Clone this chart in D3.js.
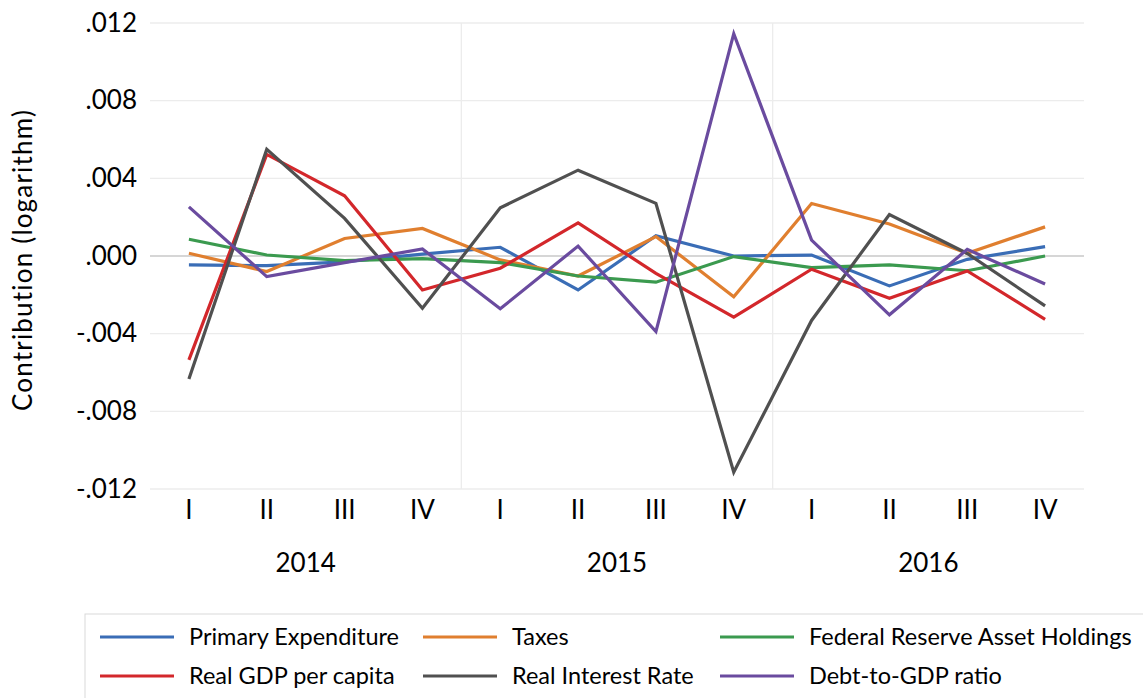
<!DOCTYPE html>
<html>
<head>
  <meta charset="utf-8">
  <title>Contributions</title>
  <script src="https://d3js.org/d3.v7.min.js"></script>
  <style>
    body { margin: 0; background: #fff; }
    text { font-family: Lato, "Open Sans", sans-serif; fill: #000; }
  </style>
</head>
<body>
<svg width="1143" height="698"></svg>
<script>
  // quarters and years
  var quarters = ["I", "II", "III", "IV", "I", "II", "III", "IV", "I", "II", "III", "IV"];
  var years = ["2014", "2015", "2016"];
  var yTicks = [-0.012, -0.008, -0.004, 0, 0.004, 0.008, 0.012];

  var primaryExpenditure = [-0.00046, -0.0005, -0.0003, 0.0001, 0.00045, -0.00175, 0.00104, 0.0, 0.00005, -0.00154, -0.00017, 0.00048];
  var taxes = [0.00014, -0.0008, 0.0009, 0.00142, -0.0002, -0.00103, 0.001, -0.0021, 0.0027, 0.00165, 0.00014, 0.0015];
  var fedReserve = [0.00086, 0.00005, -0.00024, -0.00014, -0.00034, -0.00103, -0.00135, -0.00003, -0.0006, -0.00046, -0.00076, 0.0];
  var realGdp = [-0.00535, 0.00523, 0.0031, -0.00175, -0.00063, 0.00171, -0.00089, -0.00315, -0.00068, -0.00218, -0.00077, -0.00326];
  var realInterest = [-0.00634, 0.00549, 0.00194, -0.00269, 0.00248, 0.00442, 0.00271, -0.01114, -0.00332, 0.00214, 0.00013, -0.00257];
  var debtToGdp = [0.00253, -0.00106, -0.00034, 0.00036, -0.00272, 0.00051, -0.00389, 0.01145, 0.00082, -0.00303, 0.00034, -0.00144];

  var series = [
    { name: "Primary Expenditure", values: primaryExpenditure, color: "#3a6db6" },
    { name: "Taxes", values: taxes, color: "#e07f2f" },
    { name: "Federal Reserve Asset Holdings", values: fedReserve, color: "#3b9a4f" },
    { name: "Real GDP per capita", values: realGdp, color: "#d3272b" },
    { name: "Real Interest Rate", values: realInterest, color: "#505050" },
    { name: "Debt-to-GDP ratio", values: debtToGdp, color: "#6a4b9f" }
  ];

  var svg = d3.select("svg");
  var plotLeft = 150, plotRight = 1084, plotTop = 23, plotBottom = 489;

  var x = d3.scaleBand()
    .domain(d3.range(quarters.length))
    .range([plotLeft, plotRight]);

  var y = d3.scaleLinear()
    .domain([-0.012, 0.012])
    .range([plotBottom, plotTop]);

  // horizontal gridlines
  svg.append("g")
    .selectAll("line")
    .data(yTicks)
    .enter().append("line")
    .attr("x1", plotLeft).attr("x2", plotRight)
    .attr("y1", function(d) { return y(d); })
    .attr("y2", function(d) { return y(d); })
    .attr("stroke", function(d) { return d === 0 ? "#c8c8c8" : "#ececec"; })
    .attr("stroke-width", 1.3);

  // year separators
  svg.append("g")
    .selectAll("line")
    .data([4, 8])
    .enter().append("line")
    .attr("x1", function(d) { return x(d); })
    .attr("x2", function(d) { return x(d); })
    .attr("y1", plotTop).attr("y2", plotBottom)
    .attr("stroke", "#ececec")
    .attr("stroke-width", 1.3);

  // y axis (hyphen minus, no leading zero)
  var yAxis = svg.append("g")
    .attr("transform", "translate(" + plotLeft + ",0)")
    .call(d3.axisLeft(y).tickValues(yTicks).tickSize(0).tickPadding(13)
      .tickFormat(function(d) {
        return d3.format(".3f")(d).replace("\u2212", "-").replace("0.", ".");
      }));
  yAxis.select(".domain").remove();
  yAxis.selectAll("text")
    .attr("font-family", "Lato, sans-serif")
    .style("font-size", "26px");

  svg.append("text")
    .attr("transform", "translate(32," + ((plotTop + plotBottom) / 2 + 4) + ") rotate(-90)")
    .attr("text-anchor", "middle")
    .style("font-size", "26px")
    .style("letter-spacing", "1.2px")
    .text("Contribution (logarithm)");

  // x axis: quarters
  var xAxis = svg.append("g")
    .attr("transform", "translate(0," + plotBottom + ")")
    .call(d3.axisBottom(x).tickSize(0).tickPadding(12)
      .tickFormat(function(i) { return quarters[i]; }));
  xAxis.select(".domain").remove();
  xAxis.selectAll("text")
    .attr("font-family", "Lato, sans-serif")
    .style("font-size", "26px");

  // years
  svg.append("g")
    .selectAll("text")
    .data(years)
    .enter().append("text")
    .attr("x", function(d, i) { return (x(i * 4) + x(i * 4 + 3) + x.bandwidth()) / 2; })
    .attr("y", 572)
    .attr("text-anchor", "middle")
    .style("font-size", "26px")
    .text(function(d) { return d; });

  // lines
  var line = d3.line()
    .x(function(d, i) { return x(i) + x.bandwidth() / 2; })
    .y(function(d) { return y(d); });

  svg.append("g")
    .selectAll("path")
    .data(series)
    .enter().append("path")
    .attr("d", function(d) { return line(d.values); })
    .attr("fill", "none")
    .attr("stroke", function(d) { return d.color; })
    .attr("stroke-width", 3.2)
    .attr("stroke-linejoin", "miter");

  // legend
  var legend = svg.append("g");
  legend.append("rect")
    .attr("x", 85).attr("y", 614)
    .attr("width", 1070).attr("height", 100)
    .attr("fill", "none")
    .attr("stroke", "#d9d9d9");

  var colX = [100, 423, 720];
  var rowY = [637, 676];
  var items = legend.selectAll("g")
    .data(series)
    .enter().append("g")
    .attr("transform", function(d, i) {
      return "translate(" + colX[i % 3] + "," + rowY[Math.floor(i / 3)] + ")";
    });
  items.append("line")
    .attr("x1", 0).attr("x2", 74)
    .attr("stroke", function(d) { return d.color; })
    .attr("stroke-width", 3.2);
  items.append("text")
    .attr("x", 89)
    .attr("dy", "0.35em")
    .style("font-size", "23.5px")
    .text(function(d) { return d.name; });
</script>
</body>
</html>
